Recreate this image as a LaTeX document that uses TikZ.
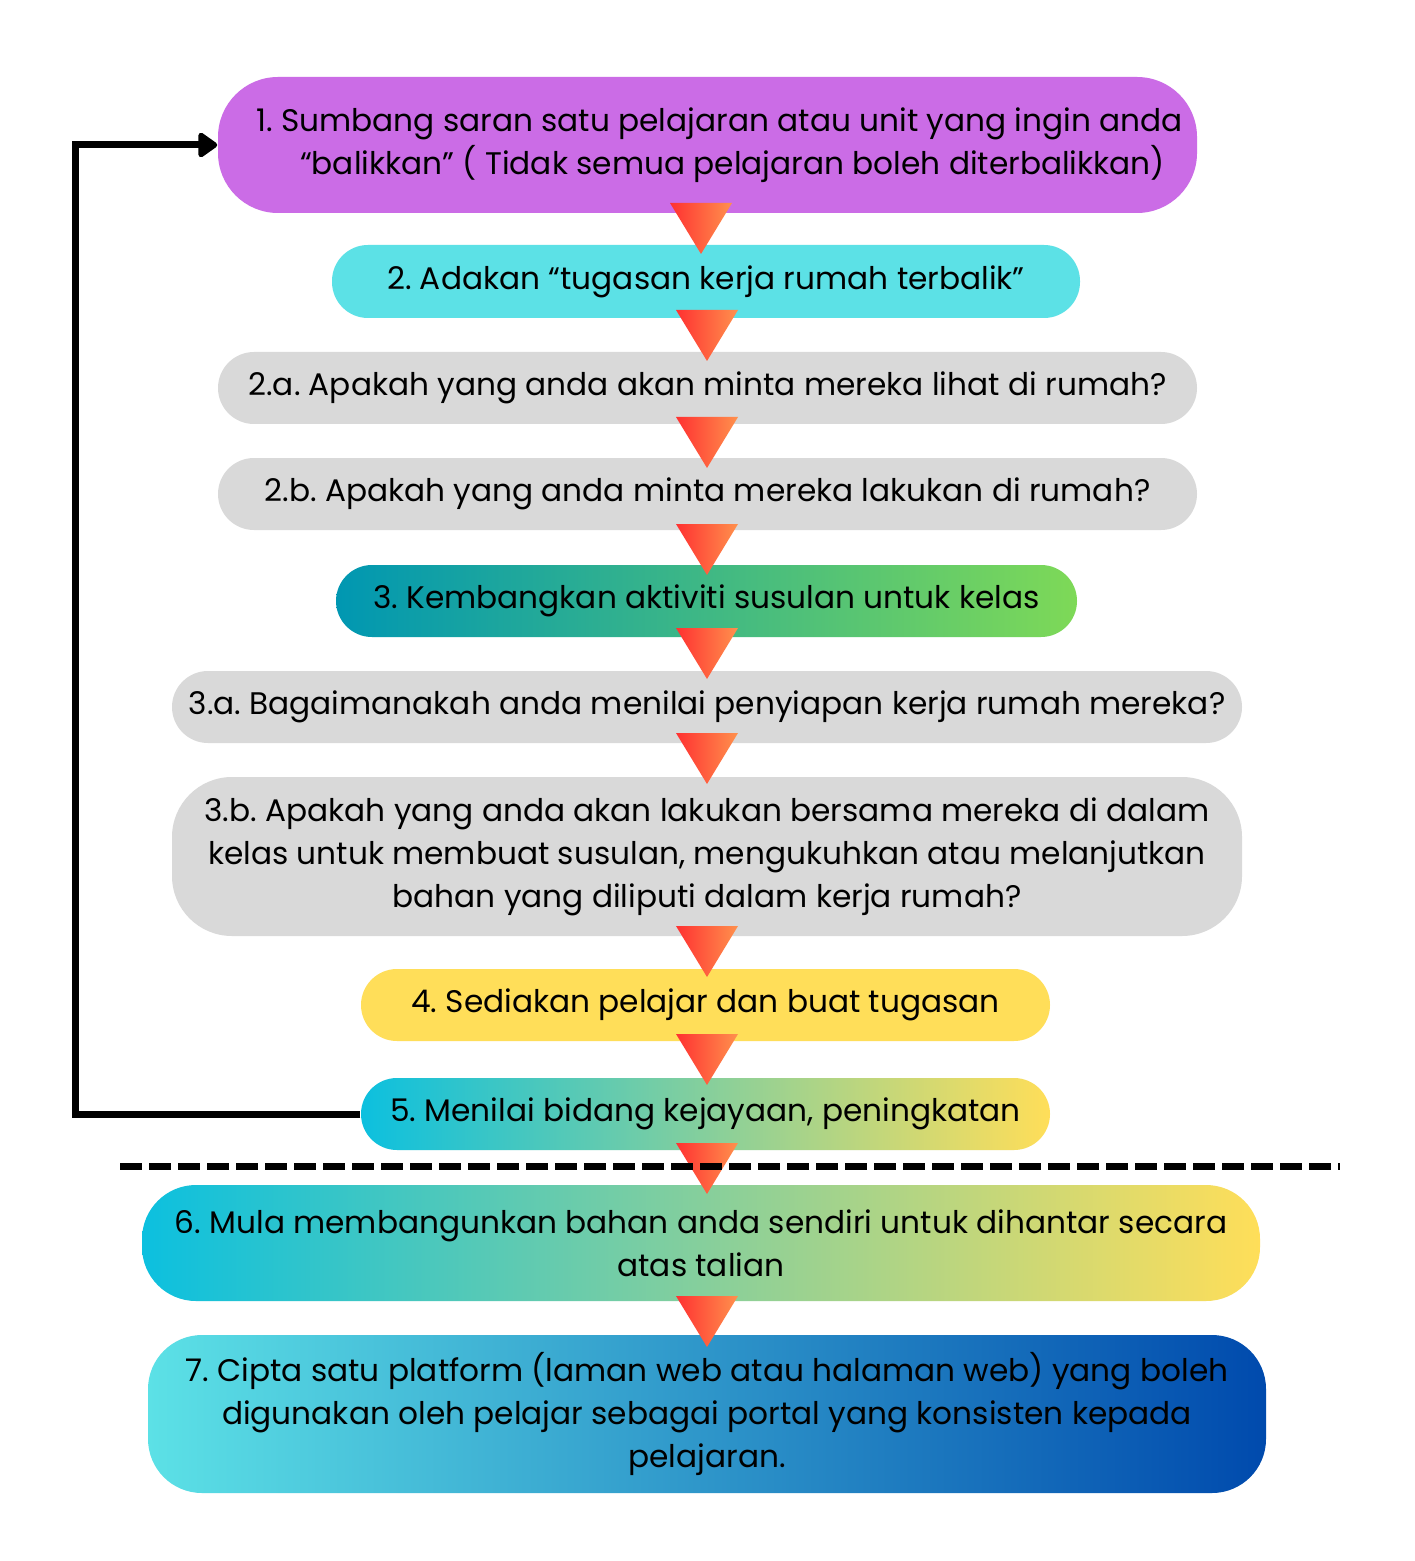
\documentclass[tikz,border=0pt]{standalone}
\usepackage{fontspec}
\setmainfont{Poppins}
\usetikzlibrary{arrows.meta}

\definecolor{lilac}{RGB}{203,108,230}
\definecolor{aqua}{RGB}{92,225,230}
\definecolor{softgray}{RGB}{217,217,217}
\definecolor{sunny}{RGB}{255,222,89}
\definecolor{teal1}{RGB}{0,151,178}
\definecolor{lime1}{RGB}{126,217,87}
\definecolor{sky1}{RGB}{12,192,223}
\definecolor{navy1}{RGB}{0,74,173}
\definecolor{tomato1}{RGB}{255,49,49}
\definecolor{tomato2}{RGB}{255,145,77}

\tikzset{every picture/.style={line width=0.75pt}}

\begin{document}
\frenchspacing
\begin{tikzpicture}[x=0.5pt,y=0.5pt,yscale=-1,xscale=1,
  pill/.style={draw=none, inner sep=0pt, align=center, text=black,
    font=\fontsize{15.6}{21.5}\selectfont, rounded corners=18pt},
  loopline/.style={draw=black, line width=3.5pt, -{Triangle[length=10.5pt,width=14pt,round]}},
  sepline/.style={draw=black, line width=3.5pt, dash pattern=on 11pt off 3.5pt}]
%set diagram left start at 0, and has height of 1561
\fill[white] (0,0) rectangle (1414,1561);
\useasboundingbox (0,0) rectangle (1414,1561);

%Shape: Rounded Rect 1
\node[pill, fill=lilac, minimum width=489.5pt, minimum height=68pt, rounded corners=30pt] (b1) at (707.5,145)
  {\hspace*{12pt}1. Sumbang saran satu pelajaran atau unit yang ingin anda\\
   \hspace*{25pt}“balikkan” ( Tidak semua pelajaran boleh diterbalikkan)};
%Shape: Rounded Rect 2
\node[pill, fill=aqua, minimum width=374pt, minimum height=36.5pt] (b2) at (706,281.5)
  {2. Adakan “tugasan kerja rumah terbalik”};
%Shape: Rounded Rect 2a
\node[pill, fill=softgray, minimum width=489.5pt, minimum height=36pt] (b2a) at (707.5,388)
  {2.a. Apakah yang anda akan minta mereka lihat di rumah?};
%Shape: Rounded Rect 2b
\node[pill, fill=softgray, minimum width=489.5pt, minimum height=36pt] (b2b) at (707.5,494)
  {2.b. Apakah yang anda minta mereka lakukan di rumah?};
%Shape: Rounded Rect 3
\node[pill, left color=teal1, right color=lime1, minimum width=370.5pt, minimum height=36pt] (b3) at (706.5,601)
  {3. Kembangkan aktiviti susulan untuk kelas};
%Shape: Rounded Rect 3a
\node[pill, fill=softgray, minimum width=535pt, minimum height=36pt] (b3a) at (707,707)
  {3.a. Bagaimanakah anda menilai penyiapan kerja rumah mereka?};
%Shape: Rounded Rect 3b
\node[pill, fill=softgray, minimum width=535pt, minimum height=79.5pt, rounded corners=30pt] (b3b) at (707,856.5)
  {3.b. Apakah yang anda akan lakukan bersama mereka di dalam\\
   kelas untuk membuat susulan, mengukuhkan atau melanjutkan\\
   bahan yang diliputi dalam kerja rumah?};
%Shape: Rounded Rect 4
\node[pill, fill=sunny, minimum width=344.5pt, minimum height=36pt] (b4) at (705.5,1005)
  {4. Sediakan pelajar dan buat tugasan};
%Shape: Rounded Rect 5
\node[pill, left color=sky1, right color=sunny, minimum width=344.5pt, minimum height=36pt] (b5) at (705.5,1114)
  {5. Menilai bidang kejayaan, peningkatan};
%Shape: Rounded Rect 6
\node[pill, left color=sky1, right color=sunny, minimum width=559pt, minimum height=58pt, rounded corners=27pt] (b6) at (701,1243)
  {6. Mula membangunkan bahan anda sendiri untuk dihantar secara\\
   atas talian};
%Shape: Rounded Rect 7
\node[pill, left color=aqua, right color=navy1, minimum width=559pt, minimum height=79pt, rounded corners=27pt] (b7) at (707,1414)
  {7. Cipta satu platform (laman web atau halaman web) yang boleh\\
   digunakan oleh pelajar sebagai portal yang konsisten kepada\\
   pelajaran.};

%Shape: Triangles
\foreach \tx/\ty in {701/203,707/310,707/417,707/524,707/628,707/733,707/926,707/1034,707/1143,707/1296}
  \shade[left color=tomato1, right color=tomato2] (\tx-31,\ty) -- (\tx+31,\ty) -- (\tx,\ty+51) -- cycle;

%Straight Lines: loop back
\draw[loopline] (b5.west) -- (75,1114) -- (75,145) -- (b1.west);

%Straight Lines: separator
\coordinate (sepL) at (120,1166);
\coordinate (sepR) at (1340,1166);
\draw[sepline] (sepL) -- (sepR);

\end{tikzpicture}
\end{document}
